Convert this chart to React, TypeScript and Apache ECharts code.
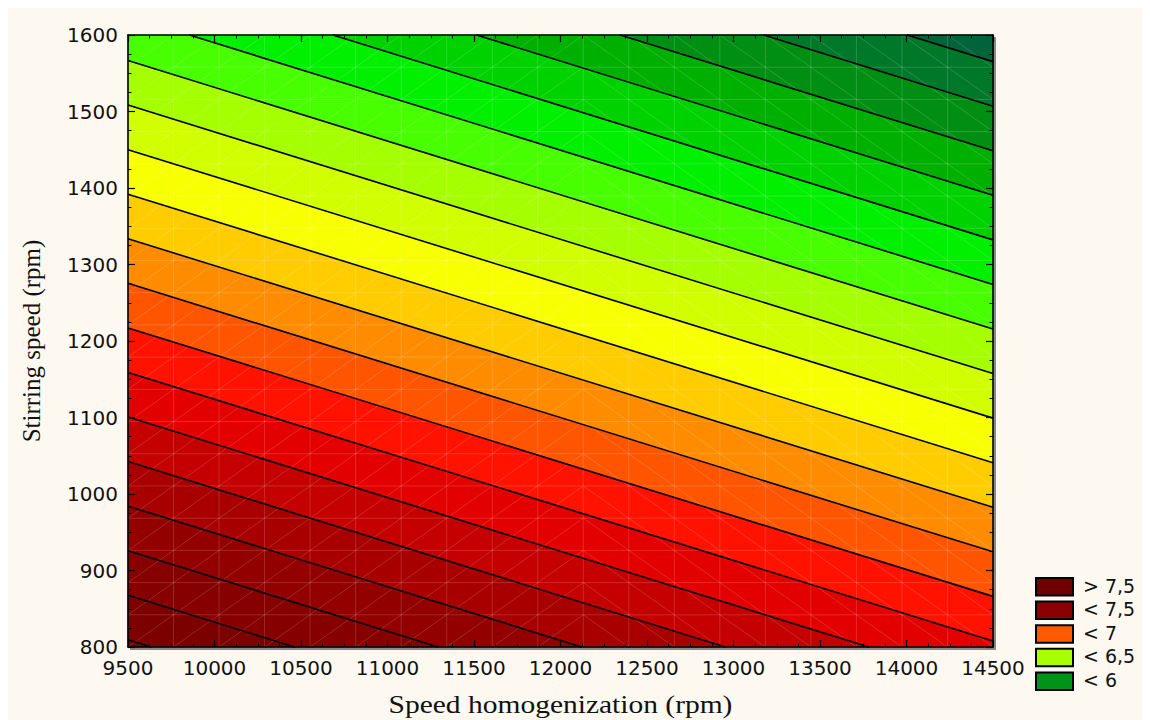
import React, { useEffect, useRef } from "react";
import * as echarts from "echarts";

// ---- data ----
const xRange = [9500, 14500];
const yRange = [800, 1600];
const xInterval = 500;
const yInterval = 100;
// fitted linear response surface: z = b0 + bx*x + by*y
const modelCoefficients = [10.2342, -0.0001205, -0.0017167];
const contourLevels = [7.7, 7.6, 7.5, 7.4, 7.3, 7.2, 7.1, 7.0, 6.9, 6.8, 6.7, 6.6, 6.5, 6.4, 6.3, 6.2, 6.1, 6.0, 5.9, 5.8];
const bandColors = [
  "#740000", "#7c0000", "#860000", "#920000", "#a80000", "#c40000", "#e20000", "#ff1200",
  "#ff5500", "#ff8c00", "#ffcc00", "#f8ff00", "#d2ff00", "#a6ff00", "#48ff00", "#00f000",
  "#00d200", "#00b000", "#008f12", "#00782a", "#00643a",
];
const legendLabels = ["> 7,5", "< 7,5", "< 7", "< 6,5", "< 6"];
const legendColors = ["#700000", "#8b0000", "#ff5a00", "#a8ff00", "#00931a"];
const meshDivisions = 19;
const meshFlipColumn = 10;
const xTitle = "Speed homogenization (rpm)";
const yTitle = "Stirring speed (rpm)";

const zAt = (x: number, y: number) => modelCoefficients[0] + modelCoefficients[1] * x + modelCoefficients[2] * y;

function clipPoly(pts: number[][], f: (p: number[]) => number) {
  const out: number[][] = [];
  for (let i = 0; i < pts.length; i++) {
    const a = pts[i];
    const b = pts[(i + 1) % pts.length];
    const fa = f(a);
    const fb = f(b);
    if (fa >= 0) out.push(a);
    if (fa >= 0 !== fb >= 0) {
      const t = fa / (fa - fb);
      out.push([a[0] + t * (b[0] - a[0]), a[1] + t * (b[1] - a[1])]);
    }
  }
  return out;
}

const rect = [
  [xRange[0], yRange[0]],
  [xRange[1], yRange[0]],
  [xRange[1], yRange[1]],
  [xRange[0], yRange[1]],
];

export default function App() {
  const ref = useRef<HTMLDivElement>(null);
  useEffect(() => {
    document.documentElement.style.overflow = "hidden";
    document.body.style.overflow = "hidden";
    const chart = echarts.init(ref.current!, null, { renderer: "svg" });
    const tickLabel = {
      fontFamily: "DejaVu Sans",
      fontSize: 20,
      color: "#111",
      formatter: (v: number) => String(v),
    };
    const axisCommon = {
      type: "value" as const,
      z: 10,
      axisLine: { show: true, onZero: false, lineStyle: { color: "#000", width: 1.6 } },
      axisTick: { show: true, inside: true, length: 7, lineStyle: { color: "#000", width: 1.2 } },
      minorTick: { show: true, splitNumber: 4, length: 3.5, lineStyle: { color: "#000", width: 1 } },
      splitLine: { show: false },
    };
    const legendGraphics: any[] = [];
    legendLabels.forEach((lab, i) => {
      const top = 569 + i * 23.6;
      legendGraphics.push({
        type: "rect",
        left: 1027,
        top,
        shape: { width: 37, height: 17.5 },
        style: { fill: legendColors[i], stroke: "#000", lineWidth: 2 },
      });
      legendGraphics.push({
        type: "text",
        left: 1075,
        top: top - 1,
        style: { text: lab, fontFamily: "DejaVu Sans", fontSize: 19, fill: "#111" },
      });
    });

    chart.setOption({
      animation: false,
      backgroundColor: "#fdf9f0",
      grid: { left: 120, top: 27, width: 865, height: 612 },
      xAxis: [
        {
          ...axisCommon,
          position: "bottom",
          min: xRange[0],
          max: xRange[1],
          interval: xInterval,
          axisLabel: { ...tickLabel, margin: 11 },
        },
        {
          ...axisCommon,
          position: "top",
          min: xRange[0],
          max: xRange[1],
          interval: xInterval,
          axisLabel: { show: false },
        },
      ],
      yAxis: [
        {
          ...axisCommon,
          position: "left",
          min: yRange[0],
          max: yRange[1],
          interval: yInterval,
          axisLabel: { ...tickLabel, margin: 10 },
          name: yTitle,
          nameLocation: "middle",
          nameGap: 84,
          nameTextStyle: { fontFamily: "Liberation Serif", fontSize: 25, color: "#111" },
        },
        {
          ...axisCommon,
          position: "right",
          min: yRange[0],
          max: yRange[1],
          interval: yInterval,
          axisLabel: { show: false },
        },
      ],
      graphic: [
        { type: "rect", left: 122, top: 29, shape: { width: 866, height: 613 }, style: { fill: "#8a8a8a" }, z: -1 },
        {
          type: "text",
          x: 552.5,
          y: 697,
          scaleX: 1.18,
          style: {
            text: xTitle,
            fontFamily: "Liberation Serif",
            fontSize: 25,
            fill: "#111",
            align: "center",
            verticalAlign: "middle",
          },
        },
        ...legendGraphics,
      ],
      series: [
        {
          type: "custom",
          silent: true,
          z: 1,
          xAxisIndex: 0,
          yAxisIndex: 0,
          data: bandColors.map((_, i) => [i]),
          renderItem: (params: any, api: any) => {
            const i = api.value(0);
            const hi = i === 0 ? Infinity : contourLevels[i - 1];
            const lo = i === contourLevels.length ? -Infinity : contourLevels[i];
            let poly = rect;
            if (isFinite(lo)) poly = clipPoly(poly, (p) => zAt(p[0], p[1]) - lo);
            if (isFinite(hi)) poly = clipPoly(poly, (p) => hi - zAt(p[0], p[1]));
            if (poly.length < 3) return null;
            return {
              type: "polygon",
              shape: { points: poly.map((p) => api.coord(p)) },
              style: { fill: bandColors[i], stroke: bandColors[i], lineWidth: 0.6 },
            };
          },
        },
        {
          type: "custom",
          silent: true,
          z: 2,
          xAxisIndex: 0,
          yAxisIndex: 0,
          data: [[0]],
          renderItem: (params: any, api: any) => {
            const children: any[] = [];
            const dx = (xRange[1] - xRange[0]) / meshDivisions;
            const dy = (yRange[1] - yRange[0]) / meshDivisions;
            const st = { stroke: "rgba(255,255,255,0.2)", lineWidth: 0.8 };
            const ln = (a: number[], b: number[]) => {
              const pa = api.coord(a);
              const pb = api.coord(b);
              children.push({ type: "line", shape: { x1: pa[0], y1: pa[1], x2: pb[0], y2: pb[1] }, style: st });
            };
            for (let k = 1; k < meshDivisions; k++) {
              ln([xRange[0] + k * dx, yRange[0]], [xRange[0] + k * dx, yRange[1]]);
              ln([xRange[0], yRange[0] + k * dy], [xRange[1], yRange[0] + k * dy]);
            }
            for (let c = 0; c < meshDivisions; c++) {
              for (let r = 0; r < meshDivisions; r++) {
                const x0 = xRange[0] + c * dx;
                const x1 = x0 + dx;
                const y0 = yRange[0] + r * dy;
                const y1 = y0 + dy;
                if (c < meshFlipColumn) ln([x0, y0], [x1, y1]);
                else ln([x0, y1], [x1, y0]);
              }
            }
            return { type: "group", children };
          },
        },
        {
          type: "custom",
          silent: true,
          z: 3,
          xAxisIndex: 0,
          yAxisIndex: 0,
          data: contourLevels.map((_, i) => [i]),
          renderItem: (params: any, api: any) => {
            const L = contourLevels[api.value(0)];
            const pts: number[][] = [];
            for (let e = 0; e < 4; e++) {
              const a = rect[e];
              const b = rect[(e + 1) % 4];
              const fa = zAt(a[0], a[1]) - L;
              const fb = zAt(b[0], b[1]) - L;
              if ((fa >= 0) !== (fb >= 0)) {
                const t = fa / (fa - fb);
                pts.push([a[0] + t * (b[0] - a[0]), a[1] + t * (b[1] - a[1])]);
              }
            }
            if (pts.length < 2) return null;
            const pa = api.coord(pts[0]);
            const pb = api.coord(pts[1]);
            return {
              type: "line",
              shape: { x1: pa[0], y1: pa[1], x2: pb[0], y2: pb[1] },
              style: { stroke: "#000", lineWidth: 1.6 },
            };
          },
        },
      ],
    });
    return () => chart.dispose();
  }, []);
  return <div ref={ref} style={{ width: 1142, height: 712 }} />;
}
